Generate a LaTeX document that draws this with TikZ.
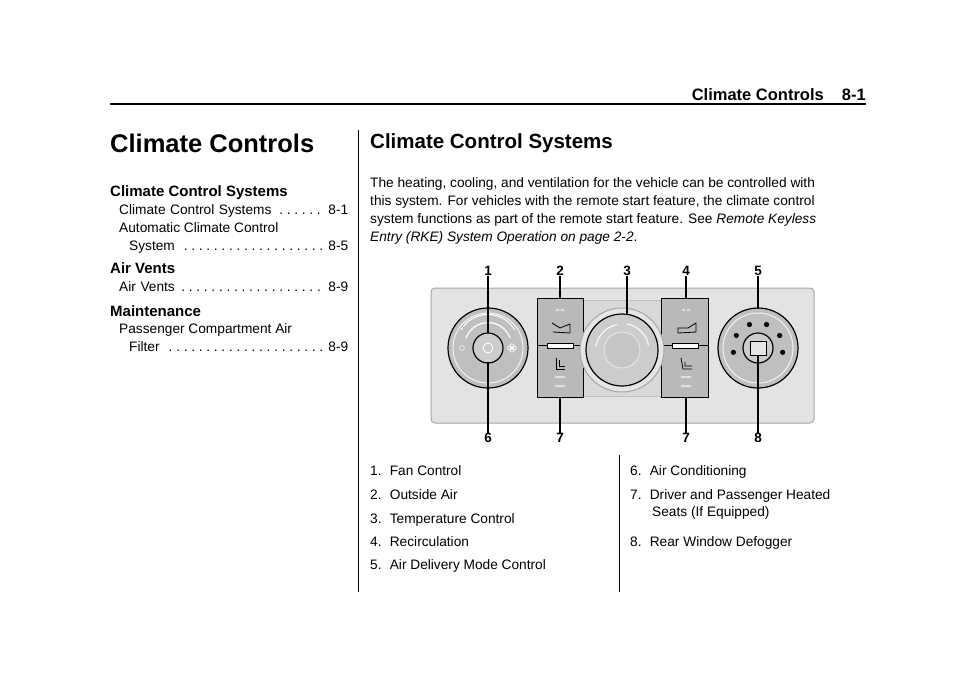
\documentclass[tikz,border=0pt]{standalone}
\usepackage{fontspec}
\setmainfont{Liberation Sans}
\newcommand{\tocdots}{\leaders\hbox to 0.55em{\hss.\hss}\hfill}
\begin{document}
\begin{tikzpicture}[x=1pt,y=-1pt,
  txt/.style={anchor=base west,inner sep=0pt,font=\fontsize{13.7}{16}\selectfont},
  toc/.style={anchor=base west,inner sep=0pt,font=\fontsize{13.7}{16}\selectfont,text width=#1},
  num/.style={inner sep=0pt,font=\bfseries\fontsize{13.5}{14}\selectfont},
  lead/.style={line width=1.3pt},
  knob/.style={draw=black,line width=1.2pt,fill=gray!50},
  btn/.style={draw=black,line width=1pt,fill=gray!55}]
\useasboundingbox (0,0) rectangle (960,672);
% header
\node[anchor=base east,inner sep=0pt,font=\bfseries\fontsize{16.5}{18}\selectfont] (hdr) at (866,100) {Climate Controls\hspace{1.1em}8-1};
\draw[line width=2.6pt] (110,104) -- (866,104);
% left column
\node[anchor=base west,inner sep=0pt,font=\bfseries\fontsize{25.5}{28}\selectfont] (t1) at (110,152) {Climate Controls};
\node[anchor=base west,inner sep=0pt,font=\bfseries\fontsize{15}{16}\selectfont] (h1) at (110,196) {Climate Control Systems};
\node[toc=229pt] (e1) at (119,214) {Climate Control Systems\tocdots\,8-1};
\node[txt] (e2) at (119,232) {Automatic Climate Control};
\node[toc=219pt] (e3) at (129,250) {System\tocdots\,8-5};
\node[anchor=base west,inner sep=0pt,font=\bfseries\fontsize{15}{16}\selectfont] (h2) at (110,273) {Air Vents};
\node[toc=229pt] (e4) at (119,291) {Air Vents\tocdots\,8-9};
\node[anchor=base west,inner sep=0pt,font=\bfseries\fontsize{15}{16}\selectfont] (h3) at (110,316) {Maintenance};
\node[txt] (e5) at (119,333) {Passenger Compartment Air};
\node[toc=219pt] (e6) at (129,351) {Filter\tocdots\,8-9};
\draw[line width=0.6pt] (358,130) -- (358,592);
\draw[line width=0.6pt] (619,455) -- (619,592);
% right column
\node[anchor=base west,inner sep=0pt,font=\bfseries\fontsize{20.5}{24}\selectfont] (t2) at (370,148) {Climate Control Systems};
\node[txt] (p1) at (370,187) {The heating, cooling, and ventilation for the vehicle can be controlled with};
\node[txt] (p2) at (370,205) {this system. For vehicles with the remote start feature, the climate control};
\node[txt] (p3) at (370,223) {system functions as part of the remote start feature. See \textit{Remote Keyless}};
\node[txt] (p4) at (370,241) {\textit{Entry (RKE) System Operation on page 2-2}.};
% panel
\draw[draw=gray!70,line width=1pt,fill=gray!22,rounded corners=4pt] (431,288) rectangle (814,423);
\draw[draw=gray!50,fill=gray!30] (583,300) rectangle (661,396);
\draw[btn] (537,298) rectangle (583,397);
\draw[btn] (661,298) rectangle (708,397);
\draw[line width=1pt] (537,345) -- (583,345) (661,345) -- (708,345);
\draw[fill=white,draw=black] (547,343) rectangle (573,348);
\draw[fill=white,draw=black] (672,343) rectangle (698,348);
\foreach \x in {560,686}{
  \fill[gray!25] (\x-4,309) rectangle (\x-1,311) (\x+1,309) rectangle (\x+4,311);
  \fill[gray!25] (\x-5,376) rectangle (\x+5,378) (\x-5,385) rectangle (\x+5,387);}
\draw[line width=0.8pt] (552,323) -- (560,328) -- (570,324) -- (570,333) -- (553,332);
\draw[line width=0.8pt] (696,323) -- (688,328) -- (678,328) -- (678,333) -- (696,332) -- cycle;
\draw[line width=0.8pt] (556,358) -- (556,369) -- (565,369) (559,360) -- (559,366) -- (565,366);
\draw[line width=0.8pt] (681,358) -- (683,369) -- (692,369) (685,362) -- (685,366) -- (692,366);
% left knob
\draw[knob] (488,348) circle (40);
\draw[gray!10,line width=1pt] (488,348) circle (35);
\draw[white,line width=1.2pt] (466,338) arc (200:340:23.5);
\draw[white,line width=1pt] (461,330) arc (210:330:31);
\draw[knob,fill=gray!40] (488,348) circle (15);
\draw[white,line width=0.8pt] (488,348) circle (5);
\draw[white] (462,348) circle (2.5);
\foreach \a in {0,90,180,270}{\draw[white,line width=0.7pt] (512,348) ++(\a:2.2) circle (2);}
% center knob
\draw[draw=gray!70,fill=gray!20,line width=1pt] (622,350) circle (42);
\draw[knob,fill=gray!40] (622,350) circle (36);
\draw[white,line width=1pt] (596,346) arc (190:260:26.5) (627,324) arc (280:350:26.5);
\draw[gray!20,fill=gray!45,line width=1pt] (622,350) circle (18);
% right knob
\draw[knob] (758,348) circle (40);
\draw[gray!10,line width=1pt] (758,348) circle (35);
\draw[knob,fill=gray!40] (758,348) circle (15);
\draw[fill=gray!20] (750,341) rectangle (766,355);
\foreach \a in {190,150,110,70,30,-10}{\fill (758,348) ++(\a:-25) circle (2.6);}
% labels and leaders
\node[num] (n1) at (488,271) {1};
\node[num] (n2) at (560,271) {2};
\node[num] (n3) at (627,271) {3};
\node[num] (n4) at (686,271) {4};
\node[num] (n5) at (758,271) {5};
\node[num] (n6) at (488,438) {6};
\node[num] (n7a) at (560,438) {7};
\node[num] (n7b) at (686,438) {7};
\node[num] (n8) at (758,438) {8};
\coordinate (c1) at (488,333); \coordinate (c2) at (560,298); \coordinate (c3) at (627,315);
\coordinate (c4) at (686,298); \coordinate (c5) at (758,309); \coordinate (c6) at (488,362);
\coordinate (c7a) at (560,397); \coordinate (c7b) at (686,397); \coordinate (c8) at (758,356);
\foreach \n/\c in {n1/c1,n2/c2,n3/c3,n4/c4,n5/c5,n6/c6,n7a/c7a,n7b/c7b,n8/c8}{\draw[lead] (\n) -- (\c);}
% list
\node[txt] (l1) at (370,475) {1.\hspace{0.6em}Fan Control};
\node[txt] (l2) at (370,499) {2.\hspace{0.6em}Outside Air};
\node[txt] (l3) at (370,523) {3.\hspace{0.6em}Temperature Control};
\node[txt] (l4) at (370,546) {4.\hspace{0.6em}Recirculation};
\node[txt] (l5) at (370,569) {5.\hspace{0.6em}Air Delivery Mode Control};
\node[txt] (l6) at (630,475) {6.\hspace{0.6em}Air Conditioning};
\node[txt] (l7) at (630,499) {7.\hspace{0.6em}Driver and Passenger Heated};
\node[txt] (l7b) at (652,516) {Seats (If Equipped)};
\node[txt] (l8) at (630,546) {8.\hspace{0.6em}Rear Window Defogger};
\end{tikzpicture}
\end{document}
